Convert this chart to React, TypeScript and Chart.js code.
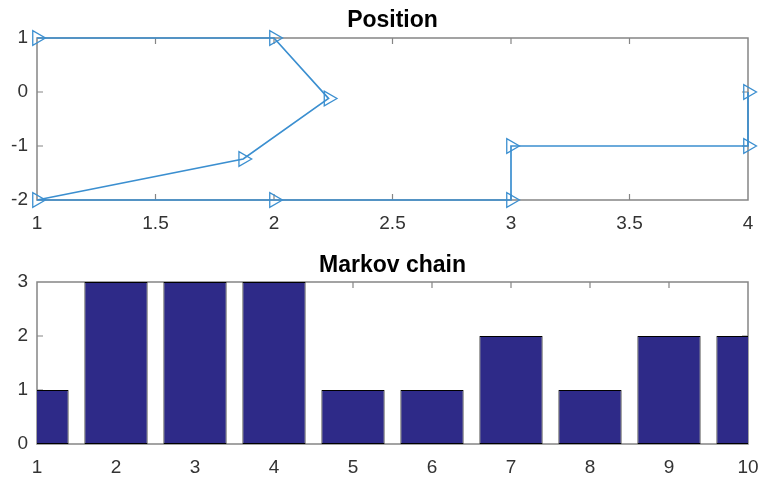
import React, { useEffect, useRef } from "react";
import { Chart, registerables } from "chart.js";

Chart.register(...registerables);

// Position path (top subplot)
const posTitle = "Position";
const posX = [1, 2, 2.23, 1.87, 1, 2, 3, 3, 4, 4];
const posY = [1, 1, -0.12, -1.24, -2, -2, -2, -1, -1, 0];
const posXTicks = [1, 1.5, 2, 2.5, 3, 3.5, 4];
const posYTicks = [-2, -1, 0, 1];

// Markov chain states (bottom subplot)
const chainTitle = "Markov chain";
const steps = [1, 2, 3, 4, 5, 6, 7, 8, 9, 10];
const states = [1, 3, 3, 3, 1, 1, 2, 1, 2, 2];
const stateYTicks = [0, 1, 2, 3];

const FONT = "'Liberation Sans', Arial, Helvetica, sans-serif";
const TICK_COLOR = "#333333";
const FRAME_COLOR = "#858585";
const LINE_COLOR = "#3b8fd0";
const BAR_COLOR = "#2e2a88";

const framePlugin = {
  id: "matlabFrame",
  beforeDatasetsDraw(chart: any) {
    const { ctx, chartArea } = chart;
    const { left, right, top, bottom } = chartArea;
    ctx.save();
    ctx.strokeStyle = FRAME_COLOR;
    ctx.lineWidth = 1.5;
    ctx.strokeRect(left, top, right - left, bottom - top);
    ctx.lineWidth = 1.2;
    const len = 6;
    const xs = chart.scales.x;
    const ys = chart.scales.y;
    ctx.beginPath();
    xs.ticks.forEach((t: any) => {
      const px = xs.getPixelForValue(t.value);
      if (px <= left + 1 || px >= right - 1) return;
      ctx.moveTo(px, bottom);
      ctx.lineTo(px, bottom - len);
      ctx.moveTo(px, top);
      ctx.lineTo(px, top + len);
    });
    ys.ticks.forEach((t: any) => {
      const py = ys.getPixelForValue(t.value);
      if (py <= top + 1 || py >= bottom - 1) return;
      ctx.moveTo(left, py);
      ctx.lineTo(left + len, py);
      ctx.moveTo(right, py);
      ctx.lineTo(right - len, py);
    });
    ctx.stroke();
    ctx.restore();
  },
};

// Title centred over the axes box (MATLAB style)
function axesTitle(text: string, gap: number) {
  return {
    id: "axesTitle",
    afterDraw(chart: any) {
      const { ctx, chartArea } = chart;
      ctx.save();
      ctx.font = `bold 23px ${FONT}`;
      ctx.fillStyle = "#000";
      ctx.textAlign = "center";
      ctx.textBaseline = "alphabetic";
      ctx.fillText(text, (chartArea.left + chartArea.right) / 2, chartArea.top - gap);
      ctx.restore();
    },
  };
}

function tickOpts(padding: number) {
  return {
    padding,
    color: TICK_COLOR,
    font: { family: FONT, size: 19 },
    callback: (v: any) => String(v),
  };
}

function fitX(h: number) {
  return (s: any) => {
    s.height = h;
    s.paddingLeft = 0;
    s.paddingRight = 0;
  };
}

function fitY(w: number) {
  return (s: any) => {
    s.width = w;
    s.paddingTop = 0;
    s.paddingBottom = 0;
  };
}

export default function App() {
  const topRef = useRef<HTMLCanvasElement | null>(null);
  const botRef = useRef<HTMLCanvasElement | null>(null);

  useEffect(() => {
    const c1 = new Chart(topRef.current as HTMLCanvasElement, {
      type: "scatter",
      data: {
        datasets: [
          {
            data: posX.map((x, i) => ({ x, y: posY[i] })),
            showLine: true,
            clip: false,
            borderColor: LINE_COLOR,
            borderWidth: 1.7,
            pointStyle: "triangle",
            rotation: 90,
            pointRadius: 8.5,
            pointBorderWidth: 1.3,
            pointBorderColor: LINE_COLOR,
            pointBackgroundColor: "rgba(0,0,0,0)",
          } as any,
        ],
      },
      options: {
        animation: false,
        responsive: false,
        events: [],
        layout: { padding: { left: 0, right: 13, top: 38, bottom: 0 } },
        plugins: {
          legend: { display: false },
          tooltip: { enabled: false },
          title: { display: false },
        },
        scales: {
          x: {
            type: "linear",
            min: 1,
            max: 4,
            afterBuildTicks: (s: any) => {
              s.ticks = posXTicks.map((v) => ({ value: v }));
            },
            afterFit: fitX(40),
            grid: { display: false, drawTicks: false },
            border: { display: false },
            ticks: tickOpts(12),
          },
          y: {
            type: "linear",
            min: -2,
            max: 1,
            afterBuildTicks: (s: any) => {
              s.ticks = posYTicks.map((v) => ({ value: v }));
            },
            afterFit: fitY(37),
            grid: { display: false, drawTicks: false },
            border: { display: false },
            ticks: tickOpts(9),
          },
        },
      } as any,
      plugins: [framePlugin, axesTitle(posTitle, 11)],
    });

    const c2 = new Chart(botRef.current as HTMLCanvasElement, {
      type: "bar",
      data: {
        datasets: [
          {
            data: steps.map((x, i) => ({ x, y: states[i] })),
            backgroundColor: BAR_COLOR,
            borderColor: "#000000",
            borderWidth: 1,
            borderSkipped: false,
            categoryPercentage: 1,
            barPercentage: 0.8,
            clip: 0,
          } as any,
        ],
      },
      options: {
        animation: false,
        responsive: false,
        events: [],
        layout: { padding: { left: 0, right: 13, top: 42, bottom: 0 } },
        plugins: {
          legend: { display: false },
          tooltip: { enabled: false },
          title: { display: false },
        },
        scales: {
          x: {
            type: "linear",
            min: 1,
            max: 10,
            offset: false,
            afterBuildTicks: (s: any) => {
              s.ticks = steps.map((v) => ({ value: v }));
            },
            afterFit: fitX(33),
            grid: { display: false, drawTicks: false, offset: false },
            border: { display: false },
            ticks: tickOpts(12),
          },
          y: {
            type: "linear",
            min: 0,
            max: 3,
            afterBuildTicks: (s: any) => {
              s.ticks = stateYTicks.map((v) => ({ value: v }));
            },
            afterFit: fitY(37),
            grid: { display: false, drawTicks: false },
            border: { display: false },
            ticks: tickOpts(9),
          },
        },
      } as any,
      plugins: [framePlugin, axesTitle(chainTitle, 10)],
    });

    return () => {
      c1.destroy();
      c2.destroy();
    };
  }, []);

  return (
    <div
      style={{
        position: "absolute",
        left: 0,
        top: 0,
        width: 761,
        height: 477,
        background: "#ffffff",
      }}
    >
      <canvas
        ref={topRef}
        width={761}
        height={240}
        style={{ position: "absolute", left: 0, top: 0, width: 761, height: 240 }}
      />
      <canvas
        ref={botRef}
        width={761}
        height={237}
        style={{ position: "absolute", left: 0, top: 240, width: 761, height: 237 }}
      />
    </div>
  );
}
